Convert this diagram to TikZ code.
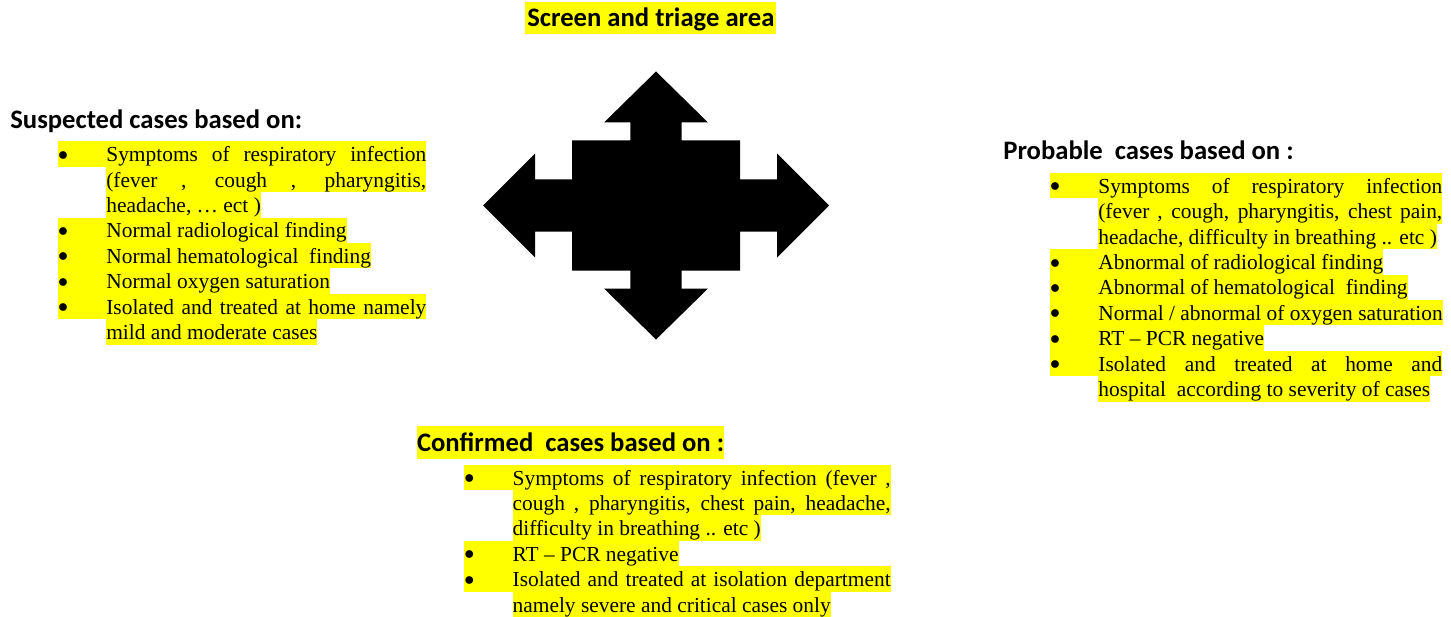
\documentclass[tikz,border=0pt]{standalone}
\usepackage{fontspec}
\setmainfont{Liberation Serif}
\newfontfamily\calibri{Carlito}
\definecolor{hlyellow}{RGB}{255,255,0}
\newcommand\bul{\makebox[29pt][l]{\raisebox{0.9pt}{$\bullet$}}}
\tikzset{
	hlline/.style={anchor=base west, fill=hlyellow, inner sep=0pt, text height=12.24pt, text depth=3pt, font=\fontsize{12.85pt}{15.24pt}\selectfont},
	headtext/.style={anchor=base west, inner sep=0pt, font=\calibri\bfseries\fontsize{16pt}{19pt}\selectfont}
}

\begin{document}
\begin{tikzpicture}[x=0.6pt, y=-0.6pt]
	\useasboundingbox (0,0) rectangle (1451,617);
	% Title and hub arrow:
	\node[headtext, fill=hlyellow, inner xsep=1.2pt, text height=14.8pt, text depth=4.4pt] (triage) at (525,26.7) {Screen and triage area};
	\fill (656,71.5) -- (708,122.5) -- (681.7,122.5) -- (681.7,140.5) -- (740,140.5) -- (740,179.5) -- (777,179.5) -- (777,153.5) -- (829,205.5) -- (777,257.5) -- (777,231.5) -- (740,231.5) -- (740,270.5) -- (681.7,270.5) -- (681.7,288.5) -- (708,288.5) -- (656,339.5) -- (604,288.5) -- (630.3,288.5) -- (630.3,270.5) -- (572,270.5) -- (572,231.5) -- (535,231.5) -- (535,257.5) -- (483,205.5) -- (535,153.5) -- (535,179.5) -- (572,179.5) -- (572,140.5) -- (630.3,140.5) -- (630.3,122.5) -- (604,122.5) -- cycle;
	% Suspected cases:
	\node[headtext] (susphead) at (10,128.3) {Suspected cases based on:};
	\node[hlline] (susp1) at (57.7,161.7) {\bul\makebox[192pt][s]{Symptoms of respiratory infection}};
	\node[hlline] (susp2) at (106,187.1) {\makebox[192pt][s]{(fever , cough , pharyngitis,}};
	\node[hlline] (susp3) at (106,212.5) {headache, … ect )};
	\node[hlline] (susp4) at (57.7,237.9) {\bul Normal radiological finding};
	\node[hlline] (susp5) at (57.7,263.3) {\bul Normal hematological~ finding};
	\node[hlline] (susp6) at (57.7,288.7) {\bul Normal oxygen saturation};
	\node[hlline] (susp7) at (57.7,314.1) {\bul\makebox[192pt][s]{Isolated and treated at home namely}};
	\node[hlline] (susp8) at (106,339.5) {mild and moderate cases};
	% Probable cases:
	\node[headtext] (probhead) at (1003,159.3) {Probable~ cases based on :};
	\node[hlline] (prob1) at (1049.7,193.3) {\bul\makebox[206.4pt][s]{Symptoms of respiratory infection}};
	\node[hlline] (prob2) at (1098,218.7) {\makebox[206.4pt][s]{(fever , cough, pharyngitis, chest pain,}};
	\node[hlline] (prob3) at (1098,244.1) {headache, difficulty in breathing .. etc )};
	\node[hlline] (prob4) at (1049.7,269.5) {\bul Abnormal of radiological finding};
	\node[hlline] (prob5) at (1049.7,294.9) {\bul Abnormal of hematological~ finding};
	\node[hlline] (prob6) at (1049.7,320.3) {\bul Normal / abnormal of oxygen saturation};
	\node[hlline] (prob7) at (1049.7,345.7) {\bul RT -- PCR negative};
	\node[hlline] (prob8) at (1049.7,371.1) {\bul\makebox[206.4pt][s]{Isolated and treated at home and}};
	\node[hlline] (prob9) at (1098,396.5) {hospital~ according to severity of cases};
	% Confirmed cases:
	\node[headtext, fill=hlyellow, text height=15.4pt, text depth=4.4pt] (confhead) at (416.7,451.7) {Confirmed~ cases based on :};
	\node[hlline] (conf1) at (464,485) {\bul\makebox[226.8pt][s]{Symptoms of respiratory infection (fever ,}};
	\node[hlline] (conf2) at (512.3,510.4) {\makebox[226.8pt][s]{cough , pharyngitis, chest pain, headache,}};
	\node[hlline] (conf3) at (512.3,535.8) {difficulty in breathing .. etc )};
	\node[hlline] (conf4) at (464,561.2) {\bul RT -- PCR negative};
	\node[hlline] (conf5) at (464,586.6) {\bul\makebox[226.8pt][s]{Isolated and treated at isolation department}};
	\node[hlline] (conf6) at (512.3,612) {namely severe and critical cases only};
\end{tikzpicture}
\end{document}
